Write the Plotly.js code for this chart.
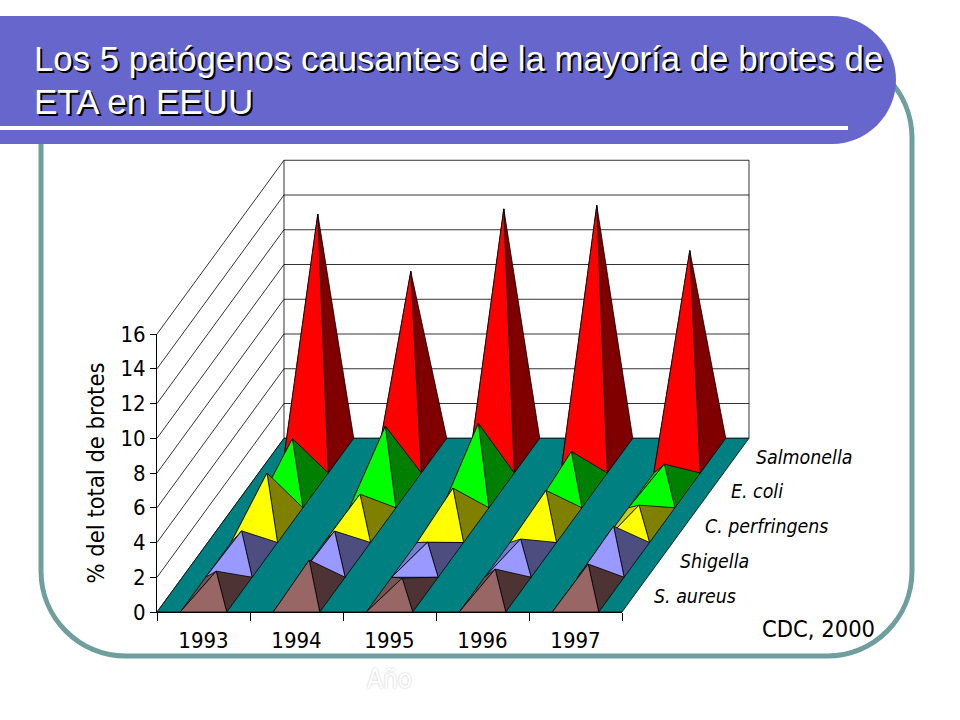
<!DOCTYPE html>
<html>
<head>
<meta charset="utf-8">
<script src="https://cdn.plot.ly/plotly-3.0.1.min.js"></script>
<style>html,body{margin:0;padding:0;background:#fff}#chart{width:960px;height:720px}</style>
</head>
<body>
<div id="chart"></div>
<script>
var years = ['1993','1994','1995','1996','1997'];
var sAureus      = [1.35, 1.99, 0.95, 1.47, 1.76];
var shigella     = [1.67, 1.66, 1.02, 1.20, 1.94];
var cPerfringens = [3.00, 1.78, 2.13, 2.00, 1.15];
var eColi        = [2.98, 3.70, 3.86, 2.24, 1.51];
var salmonella   = [13.9, 10.6, 14.2, 14.4, 11.8];
var seriesNames  = ['S. aureus','Shigella','C. perfringens','E. coli','Salmonella'];
var seriesValues = [sAureus, shigella, cPerfringens, eColi, salmonella];
var frontColors  = ['#996666','#9999FF','#FFFF00','#00FF00','#FF0000'];
var sideColors   = ['#4D3333','#4D4D80','#808000','#008000','#800000'];
var leftColors   = ['#7A5252','#7A7ACC','#CCCC00','#00CC00','#CC0000'];
var yTicks = [0,2,4,6,8,10,12,14,16];

var FONT = '"DejaVu Sans Condensed","DejaVu Sans",sans-serif';
var TITLE_FONT = '"Liberation Sans",Arial,sans-serif';
var TITLE_SHADOW = '2px 2px 0 #000';
var shearX = 0.2731, shearY = 2;   // oblique projection per unit of depth
var DEPTH = seriesNames.length, W = years.length, TOP = 16;
function px(x,d){ return x + d*shearX; }
function py(v,d){ return v + d*shearY; }

// chart frame in window pixels: front floor edge and the value axis
var L=157, R=622, B=612, T=334, FW=960, FH=720;
var uX=(R-L)/W, uY=(B-T)/TOP;

var traces = [{type:'scatter',mode:'lines',x:[0,W],y:[0,0],line:{color:'#000',width:1},
  hoverinfo:'skip',showlegend:false,name:'baseline'}];
function poly(pts, fill, name){
  var xs=[], ys=[];
  pts.forEach(function(p){ xs.push(px(p[0],p[1])); ys.push(py(p[2],p[1])); });
  xs.push(xs[0]); ys.push(ys[0]);
  traces.push({type:'scatter',mode:'lines',x:xs,y:ys,xaxis:'x2',yaxis:'y2',fill:'toself',fillcolor:fill,
    line:{color:'#000',width:0.8},hoverinfo:'skip',showlegend:false,name:name||''});
}
function lines(segs, name){
  var xs=[], ys=[];
  segs.forEach(function(s){
    xs.push(px(s[0],s[1]),px(s[3],s[4]),null);
    ys.push(py(s[2],s[1]),py(s[5],s[4]),null);
  });
  traces.push({type:'scatter',mode:'lines',x:xs,y:ys,xaxis:'x2',yaxis:'y2',line:{color:'#000',width:0.8},
    hoverinfo:'skip',showlegend:false,name:name});
}
// walls
var segs=[];
yTicks.forEach(function(v){
  segs.push([0,0,v,0,DEPTH,v]);
  segs.push([0,DEPTH,v,W,DEPTH,v]);
});
segs.push([0,DEPTH,0,0,DEPTH,TOP]);
segs.push([W,DEPTH,0,W,DEPTH,TOP]);
lines(segs,'walls');
// floor
poly([[0,0,0],[W,0,0],[W,DEPTH,0],[0,DEPTH,0]],'#008080','floor');
// pyramids back to front
for(var d=DEPTH-1;d>=0;d--){
  for(var i=0;i<W;i++){
    var v=seriesValues[d][i], l=i+0.25, r=i+0.75;
    var apex=[i+0.5,d+0.5,v];
    poly([[l,d,0],[l,d+1,0],apex],leftColors[d],seriesNames[d]);
    poly([[r,d,0],[r,d+1,0],apex],sideColors[d],seriesNames[d]);
    poly([[l,d,0],[r,d,0],apex],frontColors[d],seriesNames[d]);
  }
}
// series labels along the floor's right edge
var annotations = seriesNames.map(function(n,k){
  return {xref:'x2',yref:'y2',x:px(W,k+0.5)+0.19,y:py(0,k+0.5),yshift:-1.5,text:n,showarrow:false,xanchor:'left',yanchor:'middle',
    font:{family:FONT,size:19.4,style:'italic',color:'#000'}};
});
annotations.push({xref:'paper',yref:'paper',x:818/FW,y:1-629/FH,xanchor:'center',yanchor:'middle',text:'CDC, 2000',showarrow:false,
  font:{family:FONT,size:23.5,color:'#000'}});
annotations.push({xref:'paper',yref:'paper',x:32/FW,y:1-102/FH,xanchor:'left',yanchor:'middle',text:'ETA en EEUU',showarrow:false,
  font:{family:TITLE_FONT,size:35,color:'#fff',shadow:TITLE_SHADOW}});

function pathPx(s){
  var t=s.split(' '), out=[], isX=true;
  t.forEach(function(k){
    if(isNaN(parseFloat(k))){ out.push(k); isX=true; return; }
    var n=parseFloat(k);
    out.push(isX ? (n/FW).toFixed(5) : (1-n/FH).toFixed(5));
    isX=!isX;
  });
  return out.join(' ');
}

var layout = {
  width:FW,height:FH,autosize:false,showlegend:false,
  paper_bgcolor:'#fff',plot_bgcolor:'rgba(0,0,0,0)',
  margin:{l:0,r:0,t:0,b:0},
  title:{text:'Los 5 patógenos causantes de la mayoría de brotes de',
    x:34/FW,xanchor:'left',xref:'container',y:1-47/FH,yanchor:'top',yref:'container',
    font:{family:TITLE_FONT,size:34.8,color:'#fff',shadow:TITLE_SHADOW}},
  xaxis:{domain:[L/FW,R/FW],range:[0,W],tickmode:'array',tickvals:[0.5,1.5,2.5,3.5,4.5],ticktext:years,ticks:'',showgrid:false,zeroline:false,
    showline:true,linecolor:'#000',linewidth:1,ticklabelstandoff:9,
    minor:{tickmode:'array',tickvals:[0,1,2,3,4,5],ticks:'outside',ticklen:8,tickcolor:'#000',tickwidth:1,showgrid:false},
    tickfont:{family:FONT,size:22,color:'#000'},
    title:{text:'Año',standoff:17,font:{family:FONT,size:26,color:'#fff',shadow:'0 0 2px #bbb'}}},
  yaxis:{domain:[1-B/FH,1-T/FH],range:[0,TOP],tickmode:'array',tickvals:yTicks,ticks:'outside',ticklen:6,tickcolor:'#000',tickwidth:1,showgrid:false,zeroline:false,
    showline:true,linecolor:'#000',linewidth:1,
    tickfont:{family:FONT,size:22,color:'#000'},
    title:{text:'% del total de brotes',standoff:9,font:{family:FONT,size:23.5,color:'#000'}}},
  xaxis2:{domain:[0,1],range:[-L/uX,(FW-L)/uX],visible:false,anchor:'y2',fixedrange:true},
  yaxis2:{domain:[0,1],range:[(B-FH)/uY,B/uY],visible:false,anchor:'x2',fixedrange:true},
  annotations:annotations,
  shapes:[
    {type:'path',xref:'paper',yref:'paper',layer:'below',line:{color:'#6F9E9E',width:5},fillcolor:'rgba(0,0,0,0)',
     path:pathPx('M 41 138 C 41 91 79 53 126 53 L 827 53 C 874 53 912 91 912 138 L 912 571 C 912 618 874 656 827 656 L 126 656 C 79 656 41 618 41 571 Z')},
    {type:'path',xref:'paper',yref:'paper',layer:'below',line:{width:0},fillcolor:'#6666CC',
     path:pathPx('M 0 16 L 832 16 C 867 16 896 45 896 80 C 896 115 867 144 832 144 L 0 144 Z')},
    {type:'path',xref:'paper',yref:'paper',layer:'below',line:{width:0},fillcolor:'#FFFFFF',
     path:pathPx('M 0 126 L 848 126 L 848 130 L 0 130 Z')}
  ]
};
Plotly.newPlot('chart',traces,layout,{displayModeBar:false,staticPlot:true});
</script>
</body>
</html>
